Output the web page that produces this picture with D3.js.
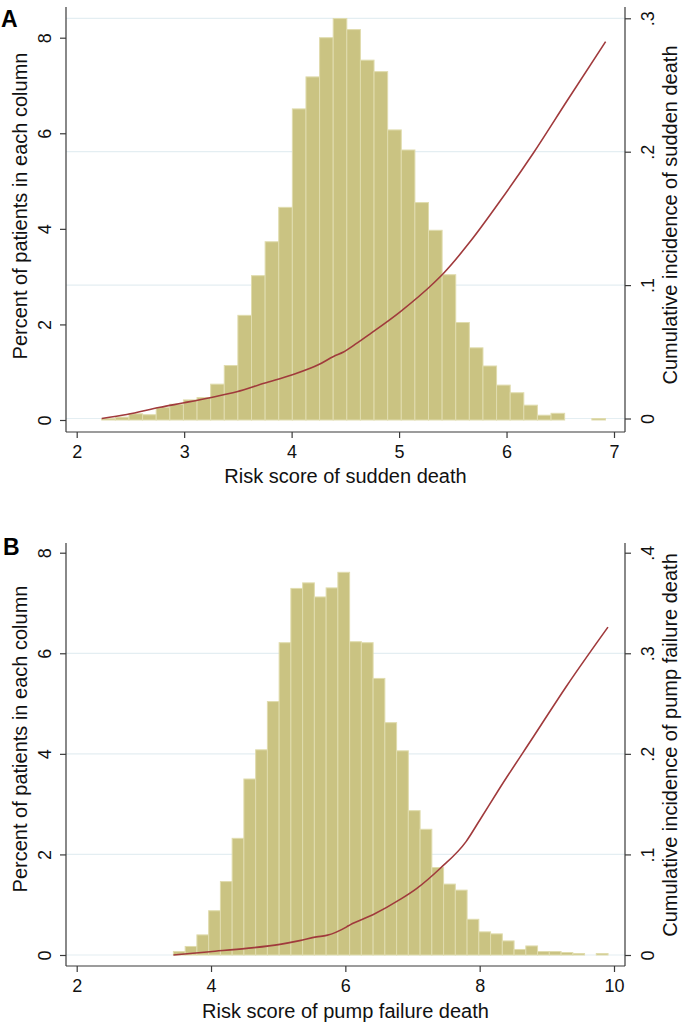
<!DOCTYPE html>
<html>
<head>
<meta charset="utf-8">
<script src="https://cdn.jsdelivr.net/npm/d3@7"></script>
<style>
  html, body { margin: 0; padding: 0; background: #fff; }
  svg { display: block; font-family: Arial, "Liberation Sans", Helvetica, sans-serif; }
</style>
</head>
<body>
<svg id="chart" width="685" height="1026"></svg>
<script>
// ---------- Panel A data (sudden death) ----------
const binStartA = 2.233;
const binWidthA = 0.1267;
const percentA = [0.03, 0.06, 0.13, 0.11, 0.26, 0.33, 0.42, 0.47, 0.75, 1.14,
  2.19, 3.02, 3.73, 4.45, 6.51, 7.18, 8.00, 8.40, 8.17, 7.53,
  7.29, 6.07, 5.65, 4.55, 3.97, 3.04, 2.04, 1.51, 1.13, 0.73,
  0.57, 0.31, 0.10, 0.14, 0, 0, 0.03];
const curveScoreA = [2.233, 2.466, 2.776, 3.0, 3.241, 3.49, 3.744, 4.0, 4.258, 4.39, 4.483, 4.59, 4.731, 5.01, 5.32, 5.414, 5.662, 5.94, 6.25, 6.562, 6.922];
const curveIncA =   [0.0, 0.003, 0.0084, 0.0118, 0.0156, 0.020, 0.0264, 0.0326, 0.0406, 0.0465, 0.0498, 0.0555, 0.0635, 0.080, 0.1014, 0.1089, 0.1326, 0.163, 0.199, 0.238, 0.2825];
const xTicksA = [2, 3, 4, 5, 6, 7];
const yLeftTicksA = [0, 2, 4, 6, 8];
const yRightTicksA = [0, 0.1, 0.2, 0.3];
const yRightLabelsA = ["0", ".1", ".2", ".3"];

// ---------- Panel B data (pump failure death) ----------
const binStartB = 3.44;
const binWidthB = 0.1749;
const percentB = [0.07, 0.17, 0.40, 0.88, 1.46, 2.32, 3.50, 4.08, 5.04, 6.21,
  7.29, 7.40, 7.12, 7.30, 7.61, 6.23, 6.21, 5.50, 4.62, 4.06,
  2.87, 2.50, 1.74, 1.41, 1.29, 0.71, 0.46, 0.42, 0.28, 0.11,
  0.18, 0.07, 0.07, 0.05, 0.03, 0, 0.03];
const curveScoreB = [3.44, 3.98, 4.53, 5.025, 5.32, 5.57, 5.72, 6.02, 6.07, 6.41, 6.81, 7.06, 7.41, 7.80, 8.0, 8.30, 8.80, 9.29, 9.91];
const curveIncB =   [0.0, 0.0033, 0.0066, 0.0106, 0.0143, 0.018, 0.0195, 0.028, 0.030, 0.040, 0.055, 0.066, 0.086, 0.113, 0.134, 0.166, 0.217, 0.267, 0.326];
const xTicksB = [2, 4, 6, 8, 10];
const yLeftTicksB = [0, 2, 4, 6, 8];
const yRightTicksB = [0, 0.1, 0.2, 0.3, 0.4];
const yRightLabelsB = ["0", ".1", ".2", ".3", ".4"];
const gridTicksB = [0, 0.1, 0.2, 0.3];

const svg = d3.select("#chart");
const BAR_FILL = "#cac382";
const BAR_STROKE = "#e0dcae";
const LINE_COLOR = "#a03a3c";
const AXIS_COLOR = "#3a3a3a";
const GRID_COLOR = "#e4eef2";
const TICK_FS = 18;
const TITLE_FS = 20;

function panel(cfg) {
  const g = svg.append("g");
  const x = d3.scaleLinear().domain(cfg.xDomain).range(cfg.xRange);
  const yL = d3.scaleLinear().domain(cfg.yLDomain).range(cfg.yLRange);
  const yR = d3.scaleLinear().domain(cfg.yRDomain).range(cfg.yRRange);

  // gridlines (from right axis)
  g.selectAll("line.grid").data(cfg.gridTicks).enter().append("line")
    .attr("x1", cfg.left).attr("x2", cfg.right)
    .attr("y1", d => yR(d)).attr("y2", d => yR(d))
    .attr("stroke", GRID_COLOR).attr("stroke-width", 1.2);

  // bars
  const bins = cfg.percent.map((p, i) => ({
    x0: cfg.binStart + i * cfg.binWidth,
    x1: cfg.binStart + (i + 1) * cfg.binWidth,
    p: p
  })).filter(d => d.p > 0);
  g.selectAll("rect.bar").data(bins).enter().append("rect")
    .attr("x", d => x(d.x0))
    .attr("width", d => x(d.x1) - x(d.x0))
    .attr("y", d => yL(d.p))
    .attr("height", d => yL(0) - yL(d.p))
    .attr("fill", BAR_FILL)
    .attr("stroke", BAR_STROKE)
    .attr("stroke-width", 1);

  // cumulative incidence line
  const pts = cfg.curveScore.map((s, i) => [s, cfg.curveInc[i]]);
  const line = d3.line().x(d => x(d[0])).y(d => yR(d[1])).curve(d3.curveMonotoneX);
  g.append("path").datum(pts).attr("d", line)
    .attr("fill", "none").attr("stroke", LINE_COLOR).attr("stroke-width", 1.6);

  // axes lines
  g.append("line").attr("x1", cfg.left).attr("x2", cfg.left)
    .attr("y1", cfg.top).attr("y2", cfg.bottom)
    .attr("stroke", AXIS_COLOR).attr("stroke-width", 1.2);
  g.append("line").attr("x1", cfg.right).attr("x2", cfg.right)
    .attr("y1", cfg.top).attr("y2", cfg.bottom)
    .attr("stroke", AXIS_COLOR).attr("stroke-width", 1.2);
  g.append("line").attr("x1", cfg.left).attr("x2", cfg.right)
    .attr("y1", cfg.bottom).attr("y2", cfg.bottom)
    .attr("stroke", AXIS_COLOR).attr("stroke-width", 1.2);

  // x axis
  const xa = g.append("g").attr("transform", `translate(0,${cfg.bottom})`)
    .call(d3.axisBottom(x).tickValues(cfg.xTicks).tickSize(6).tickPadding(7).tickFormat(d3.format("d")));
  xa.select(".domain").remove();
  xa.selectAll(".tick line").attr("stroke", AXIS_COLOR).attr("stroke-width", 1.2);
  xa.selectAll(".tick text").attr("font-size", TICK_FS).attr("fill", "#111")
    .attr("font-family", "Arial, 'Liberation Sans', sans-serif");

  // left y axis (rotated labels)
  const ya = g.append("g").attr("transform", `translate(${cfg.left},0)`)
    .call(d3.axisLeft(yL).tickValues(cfg.yLTicks).tickSize(6).tickFormat(d3.format("d")));
  ya.select(".domain").remove();
  ya.selectAll(".tick line").attr("stroke", AXIS_COLOR).attr("stroke-width", 1.2);
  ya.selectAll(".tick text")
    .attr("x", null).attr("dy", null)
    .attr("font-size", TICK_FS).attr("fill", "#111")
    .attr("font-family", "Arial, 'Liberation Sans', sans-serif")
    .attr("text-anchor", "middle")
    .attr("transform", "translate(-15,0) rotate(-90)");

  // right y axis (rotated labels)
  const yra = g.append("g").attr("transform", `translate(${cfg.right},0)`)
    .call(d3.axisRight(yR).tickValues(cfg.yRTicks).tickSize(6)
      .tickFormat((d, i) => cfg.yRLabels[i]));
  yra.select(".domain").remove();
  yra.selectAll(".tick line").attr("stroke", AXIS_COLOR).attr("stroke-width", 1.2);
  yra.selectAll(".tick text")
    .attr("x", null).attr("dy", null)
    .attr("font-size", TICK_FS).attr("fill", "#111")
    .attr("font-family", "Arial, 'Liberation Sans', sans-serif")
    .attr("text-anchor", "middle")
    .attr("transform", "translate(29,0) rotate(-90)");

  // titles
  g.append("text").attr("x", (cfg.left + cfg.right) / 2).attr("y", cfg.xTitleY)
    .attr("text-anchor", "middle").attr("font-size", TITLE_FS).attr("fill", "#111")
    .text(cfg.xTitle);
  g.append("text").attr("transform", `translate(${cfg.yLTitleX},${cfg.yLTitleY}) rotate(-90)`)
    .attr("text-anchor", "middle").attr("font-size", TITLE_FS).attr("fill", "#111")
    .text(cfg.yLTitle);
  g.append("text").attr("transform", `translate(${cfg.yRTitleX},${cfg.yRTitleY}) rotate(-90)`)
    .attr("text-anchor", "middle").attr("font-size", TITLE_FS).attr("fill", "#111")
    .text(cfg.yRTitle);

  // panel label
  g.append("text").attr("x", cfg.labelX).attr("y", cfg.labelY)
    .attr("font-size", 23).attr("font-weight", "bold").attr("fill", "#000")
    .text(cfg.label);
}

panel({
  label: "A", labelX: 1, labelY: 27,
  left: 66, right: 625, top: 7, bottom: 432,
  xDomain: [2, 7], xRange: [76.7, 614],
  yLDomain: [0, 8], yLRange: [420, 37.7],
  yRDomain: [0, 0.3], yRRange: [418.5, 18.3],
  binStart: binStartA, binWidth: binWidthA, percent: percentA,
  curveScore: curveScoreA, curveInc: curveIncA,
  xTicks: xTicksA, yLTicks: yLeftTicksA, yRTicks: yRightTicksA, yRLabels: yRightLabelsA,
  gridTicks: yRightTicksA,
  xTitle: "Risk score of sudden death", xTitleY: 483,
  yLTitle: "Percent of patients in each column", yLTitleX: 27, yLTitleY: 206,
  yRTitle: "Cumulative incidence of sudden death", yRTitleX: 677, yRTitleY: 215
});

panel({
  label: "B", labelX: 3, labelY: 555,
  left: 66, right: 625, top: 543, bottom: 966,
  xDomain: [2, 10], xRange: [76.7, 614],
  yLDomain: [0, 8], yLRange: [955, 552.7],
  yRDomain: [0, 0.4], yRRange: [955, 552.7],
  binStart: binStartB, binWidth: binWidthB, percent: percentB,
  curveScore: curveScoreB, curveInc: curveIncB,
  xTicks: xTicksB, yLTicks: yLeftTicksB, yRTicks: yRightTicksB, yRLabels: yRightLabelsB,
  gridTicks: gridTicksB,
  xTitle: "Risk score of pump failure death", xTitleY: 1018,
  yLTitle: "Percent of patients in each column", yLTitleX: 27, yLTitleY: 739,
  yRTitle: "Cumulative incidence of pump failure death", yRTitleX: 677, yRTitleY: 745
});
</script>
</body>
</html>
